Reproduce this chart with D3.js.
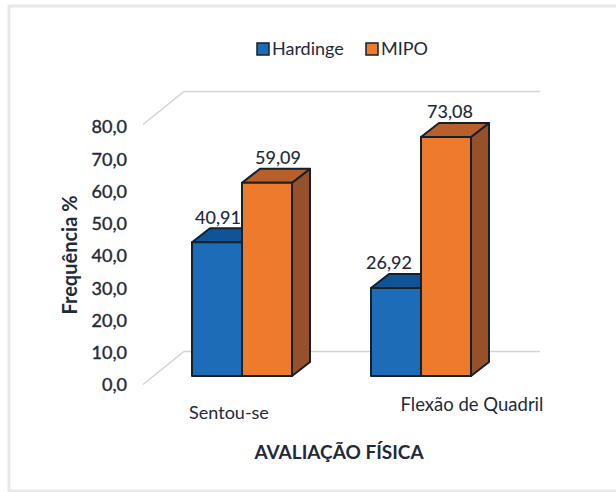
<!DOCTYPE html>
<html lang="en">
<head>
<meta charset="UTF-8">
<title>Avaliação física</title>
<script src="https://d3js.org/d3.v7.min.js"></script>
<style>
    html, body { margin: 0; padding: 0; background: #fff; }
    svg { display: block; }
    text { font-family: Lato, "Open Sans", sans-serif; fill: #1f2a3a; }
    .num { stroke: #1f2a3a; stroke-width: 0.4px; }
</style>
</head>
<body>
<svg width="616" height="492" viewBox="0 0 616 492"></svg>
<script>
    const categories = ["Sentou-se", "Flexão de Quadril"];
    const seriesNames = ["Hardinge", "MIPO"];
    const hardinge = [40.91, 26.92];
    const mipo = [59.09, 73.08];
    const yTicks = [0, 10, 20, 30, 40, 50, 60, 70, 80];

    const frontColor = ["#1c6cb8", "#ee7a2c"];
    const topColor = ["#0f5496", "#b9602a"];
    const sideColor = ["#0d4a85", "#97512a"];

    // value labels were moved by hand in the original, so each has its own x shift
    const labelShift = [[26, 36], [18, 29]];

    const svg = d3.select("svg");

    // panel border
    svg.append("rect").attr("x", 9).attr("y", 6).attr("width", 640).attr("height", 485)
        .attr("fill", "#fff").attr("stroke", "#e8e8e8").attr("stroke-width", 3);

    // 3d box offset
    const dx = 18, dy = -14;

    const x0 = d3.scalePoint().domain(categories).range([242, 421]);
    const barW = 50;
    const y = d3.scaleLinear().domain([0, 80]).range([376, 114.4]);
    const wallScale = d3.scaleLinear().domain([0, 80]).range([384.5, 124.5]);
    const tickScale = d3.scaleLinear().domain([0, 80]).range([385, 127]);

    // walls
    const wall = svg.append("g").attr("fill", "none").attr("stroke", "#d4d4d4").attr("stroke-width", 1.5);
    [0, 80].forEach(v => {
        const yy = wallScale(v);
        wall.append("path").attr("d", d3.line()([[143, yy], [184, yy - 33], [540, yy - 33]]));
    });

    // y tick labels
    svg.append("g").selectAll("text").data(yTicks).join("text")
        .attr("class", "num")
        .attr("x", 127).attr("y", d => tickScale(d)).attr("dy", "0.35em")
        .attr("text-anchor", "end").attr("font-size", 18)
        .text(d => d3.format(".1f")(d).replace(".", ","));

    // bars
    const rows = categories.map((c, i) => [hardinge[i], mipo[i]].map((v, s) => ({c, s, v, i})));
    const line = d3.line();
    rows.forEach(row => {
        row.forEach(d => {
            const xl = x0(d.c) + (d.s - 1) * barW, xr = xl + barW, yt = y(d.v), yb = y(0);
            const g = svg.append("g").attr("stroke", "#14202c").attr("stroke-width", 2).attr("stroke-linejoin", "round");
            g.append("path").attr("fill", sideColor[d.s])
                .attr("d", line([[xr, yt], [xr + dx, yt + dy], [xr + dx, yb + dy], [xr, yb]]) + "Z");
            g.append("path").attr("fill", topColor[d.s])
                .attr("d", line([[xl, yt], [xl + dx, yt + dy], [xr + dx, yt + dy], [xr, yt]]) + "Z");
            g.append("rect").attr("x", xl).attr("y", yt).attr("width", barW).attr("height", yb - yt)
                .attr("fill", frontColor[d.s]);
        });
        // value labels on top of the bars
        row.forEach(d => {
            const xl = x0(d.c) + (d.s - 1) * barW;
            svg.append("text").attr("x", xl + labelShift[d.i][d.s]).attr("y", y(d.v) - 25).attr("dy", "0.35em")
                .attr("text-anchor", "middle").attr("font-size", 18).attr("font-weight", 500)
                .text(d3.format(".2f")(d.v).replace(".", ","));
        });
    });

    // category labels
    svg.append("text").attr("x", 229).attr("y", 419).attr("text-anchor", "middle").attr("font-size", 18).text(categories[0]);
    svg.append("text").attr("x", 472).attr("y", 411).attr("text-anchor", "middle").attr("font-size", 18.5).text(categories[1]);

    // axis titles
    svg.append("text").attr("transform", "translate(77,255) rotate(-90)").attr("text-anchor", "middle")
        .attr("font-size", 20).attr("font-weight", 700).text("Frequência %");
    svg.append("text").attr("x", 339).attr("y", 459).attr("text-anchor", "middle")
        .attr("font-size", 19).attr("font-weight", 700).text("AVALIAÇÃO FÍSICA");

    // legend
    const legendX = [257, 366];
    seriesNames.forEach((n, i) => {
        svg.append("rect").attr("x", legendX[i]).attr("y", 43).attr("width", 12).attr("height", 12)
            .attr("fill", frontColor[i]).attr("stroke", "#14202c").attr("stroke-width", 1.5);
        svg.append("text").attr("x", legendX[i] + 15).attr("y", 55).attr("font-size", 18).text(n);
    });
</script>
</body>
</html>
